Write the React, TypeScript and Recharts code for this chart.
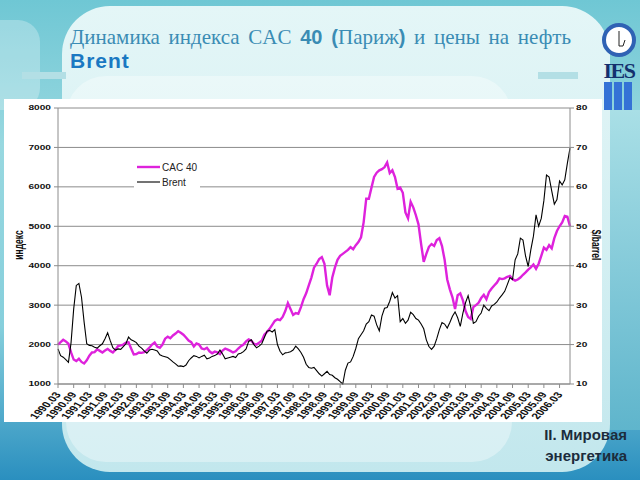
import React from "react";
import { LineChart, Line, XAxis, YAxis, CartesianGrid } from "recharts";

// CAC 40, monthly, from 1990.03
const cac40 = [
  2000, 2060, 2120, 2080, 2020, 1800, 1620, 1580, 1640, 1560, 1520, 1600, 1720, 1800, 1810, 1880,
  1840, 1800, 1850, 1890, 1840, 1800, 1870, 1960, 1980, 2000, 2050, 2060, 1900, 1750, 1760, 1800,
  1790, 1810, 1860, 1920, 2000, 2050, 1950, 1920, 2000, 2150, 2200, 2160, 2230, 2280, 2340, 2300,
  2250, 2180, 2100, 2060, 1950, 2030, 2000, 1900, 1880, 1920, 1830, 1780, 1820, 1800, 1760, 1850,
  1900, 1870, 1840, 1800, 1830, 1900, 1960, 2000, 2080, 2130, 2100, 2020, 2000, 2050, 2100, 2250,
  2320, 2400, 2500, 2600, 2640, 2620, 2700, 2850, 3050, 2900, 2750, 2800, 2780, 2950, 3150, 3300,
  3500, 3700, 3950, 4050, 4170, 4220, 4050, 3500, 3250, 3700, 3950, 4150, 4250, 4300, 4350, 4400,
  4470, 4420, 4520, 4600, 4720, 5100, 5700, 5700, 5980, 6250, 6360, 6420, 6450, 6500, 6620, 6350,
  6420, 6250, 5950, 5980, 5850, 5350, 5200, 5620, 5480, 5280, 5050, 4550, 4100, 4300, 4480, 4550,
  4500, 4650, 4700, 4500, 4150, 3650, 3400, 3200, 2900, 3250, 3300, 3120, 2850, 2700, 2650, 2950,
  3000, 3060, 3180, 3260, 3150, 3330, 3420, 3500, 3570, 3680, 3660, 3680, 3720, 3740, 3660, 3620,
  3650, 3700, 3770, 3830, 3900, 3960, 4030, 3920, 4050, 4250, 4460, 4400, 4520, 4440, 4700, 4880,
  5000, 5100, 5260, 5240, 5000,
];

// Brent, $/barrel, monthly, from 1990.03
const brent = [
  18.9, 17.2, 16.8, 16.2, 15.5, 20.5, 29.0, 35.0, 35.5, 32.0, 25.7, 20.2, 19.8, 19.7, 19.3, 19.1,
  19.7, 20.2, 21.5, 23.0, 21.0, 19.2, 18.6, 18.9, 18.8, 19.5, 20.2, 21.9, 21.2, 20.9, 20.5, 19.6,
  19.1, 18.4, 17.8, 18.6, 18.8, 18.6, 18.4, 17.4, 17.1, 16.9, 16.7, 16.2, 15.6, 15.1, 14.5, 14.6,
  14.4, 14.8, 15.9, 16.6, 17.2, 17.0, 16.6, 17.0, 17.3, 16.4, 16.6, 17.0, 17.2, 17.6, 18.6, 17.6,
  16.4, 16.6, 16.8, 17.0, 16.7, 17.6, 17.8, 18.2, 18.9, 20.8, 21.2, 20.0, 19.2, 19.6, 20.2, 21.8,
  23.4, 23.6, 23.2, 23.8, 20.0, 18.3, 17.4, 17.9, 18.0, 18.2, 18.6, 19.6, 18.9, 18.0, 16.8, 15.0,
  14.2, 14.0, 14.2, 13.4, 12.6, 12.0, 12.6, 13.2, 12.4, 12.2, 11.6, 11.2, 10.6, 10.0, 13.5, 15.3,
  15.6, 17.0, 19.0, 21.5, 22.5, 23.5, 25.2, 25.8, 27.5, 27.2, 25.0, 23.5, 27.2, 29.2, 29.4, 31.0,
  33.2, 31.8, 32.4, 25.8, 26.6, 25.4, 26.2, 28.2, 27.6, 26.6, 26.2, 25.2, 24.0, 21.2, 19.5, 18.8,
  19.6, 21.5, 23.8, 25.6, 25.2, 24.2, 25.6, 27.2, 28.3, 26.8, 24.6, 28.0, 30.6, 32.4, 29.5, 25.4,
  25.8, 27.2, 28.0, 30.0, 29.2, 28.6, 29.8, 30.2, 30.8, 31.8, 32.6, 33.5, 35.2, 37.0, 36.5, 41.5,
  43.0, 47.0, 46.5, 42.4, 39.8, 44.0, 47.5, 52.9, 50.0, 52.0, 56.5, 63.0, 62.5, 59.0, 55.6, 56.8,
  61.5, 60.5, 61.8, 66.0, 69.8,
];

// category labels 1990.03, 1990.04, ...
const months: string[] = cac40.map((_, k) => {
  const t = 2 + k;
  return `${1990 + Math.floor(t / 12)}.${String((t % 12) + 1).padStart(2, "0")}`;
});

const leftTicks = [1000, 2000, 3000, 4000, 5000, 6000, 7000, 8000];
const rightTicks = [10, 20, 30, 40, 50, 60, 70, 80];

const rows = months.map((m, i) => ({ m, cac: cac40[i], brent: brent[i] }));

const SANS = '"Liberation Sans", Arial, sans-serif';
const GRID = "#8c8c8c";

function XTick({ x, y, payload }: any) {
  return (
    <text
      transform={`translate(${x},${y + 3}) scale(1.45,1) rotate(-55)`}
      textAnchor="end"
      dy="0.35em"
      fontSize={8.5}
      fontWeight="bold"
      fontFamily={SANS}
      fill="#111"
    >
      {payload.value}
    </text>
  );
}

function YTick({ x, y, payload, side }: any) {
  return (
    <text
      transform={`translate(${side === "left" ? x - 1 : x},${y}) scale(1.45,1)`}
      textAnchor={side === "left" ? "end" : "start"}
      dy="0.35em"
      fontSize={7}
      fontWeight="bold"
      fontFamily={SANS}
      fill="#111"
    >
      {payload.value}
    </text>
  );
}

export default function App() {
  return (
    <div
      style={{
        position: "relative",
        width: 640,
        height: 480,
        overflow: "hidden",
        background: "linear-gradient(180deg, #6fc7d4 0%, #98d8e0 30%, #86cfdc 68%, #2a8fbf 100%)",
        fontFamily: SANS,
      }}
    >
      <style>{"body{margin:0}"}</style>
      {/* slide decoration */}
      <div style={{ position: "absolute", left: 0, top: 20, width: 40, height: 90, borderRadius: "0 22px 22px 0", background: "rgba(255,255,255,0.28)" }} />
      <div style={{ position: "absolute", left: 600, top: 110, width: 40, height: 320, background: "linear-gradient(180deg,#a9dfe6,#5fb5cc)" }} />
      <div style={{ position: "absolute", left: 62, top: 6, width: 548, height: 466, borderRadius: 48, background: "linear-gradient(180deg,#e4f6f7 0%,#d3eff2 55%,#c2e7ed 100%)" }} />
      <div style={{ position: "absolute", left: 66, top: 76, width: 446, height: 386, borderRadius: 40, background: "rgba(255,255,255,0.35)" }} />
      <div style={{ position: "absolute", left: 22, top: 72, width: 44, height: 7, background: "#b3dfe5" }} />
      <div style={{ position: "absolute", left: 538, top: 72, width: 40, height: 7, background: "#b3dfe5" }} />

      {/* title */}
      <div
        style={{
          position: "absolute",
          left: 70,
          top: 25,
          width: 501,
          fontFamily: '"Liberation Serif", "Times New Roman", serif',
          fontSize: 21,
          lineHeight: "24px",
          color: "#3a8cb4",
        }}
      >
        <div style={{ textAlign: "justify", textAlignLast: "justify", whiteSpace: "nowrap" as any }}>
          Динамика индекса CAC <b style={{ fontFamily: SANS, fontSize: 20 }}>40 (</b>Париж
          <b style={{ fontFamily: SANS, fontSize: 20 }}>)</b> и цены на нефть
        </div>
        <div style={{ fontFamily: SANS, fontWeight: "bold", fontSize: 21, letterSpacing: 1, color: "#1a78c2" }}>Brent</div>
      </div>

      {/* logo */}
      <svg style={{ position: "absolute", left: 598, top: 18 }} width={42} height={94}>
        <circle cx={21} cy={22} r={15} fill="#fff" stroke="#2f62b4" strokeWidth={4} />
        <path d="M21 13 L21 28 L25 28 L27 22" fill="none" stroke="#222" strokeWidth={1} />
        <text x={21} y={60} textAnchor="middle" fontFamily='"Liberation Serif", serif' fontWeight="bold" fontSize={22} fill="#14306e" letterSpacing={-1.5}>
          IES
        </text>
        <rect x={6} y={64} width={8} height={28} fill="#3472d6" />
        <rect x={16} y={64} width={8} height={28} fill="#3472d6" />
        <rect x={26} y={64} width={8} height={28} fill="#3472d6" />
      </svg>

      {/* chart */}
      <div style={{ position: "absolute", left: 4, top: 99, width: 598, height: 323, background: "#fff" }}>
        <LineChart width={598} height={323} data={rows} margin={{ top: 9, right: 0, bottom: 0, left: 0 }}>
          <CartesianGrid vertical={false} stroke={GRID} />
          <XAxis
            dataKey="m"
            scale="point"
            interval={5}
            height={38}
            tickSize={4}
            axisLine={{ stroke: GRID }}
            tickLine={{ stroke: GRID }}
            tick={(p: any) => <XTick {...p} />}
          />
          <YAxis
            domain={[1000, 8000]}
            ticks={leftTicks}
            width={54}
            tickSize={4}
            axisLine={{ stroke: GRID }}
            tickLine={{ stroke: GRID }}
            tick={(p: any) => <YTick {...p} side="left" />}
          />
          <YAxis
            yAxisId="right"
            orientation="right"
            domain={[10, 80]}
            ticks={rightTicks}
            width={32}
            tickSize={4}
            axisLine={{ stroke: GRID }}
            tickLine={{ stroke: GRID }}
            tick={(p: any) => <YTick {...p} side="right" />}
          />
          <Line dataKey="cac" stroke="#de22dc" strokeWidth={2.4} dot={false} isAnimationActive={false} />
          <Line yAxisId="right" dataKey="brent" stroke="#000" strokeWidth={1.1} dot={false} isAnimationActive={false} />
        </LineChart>
      </div>

      {/* axis titles and legend */}
      <svg style={{ position: "absolute", left: 0, top: 0, pointerEvents: "none" }} width={640} height={480}>
        <text transform="translate(19,245) scale(1.45,1) rotate(-90)" textAnchor="middle" dy="0.35em" fontSize={8.5} fontWeight="bold" fontFamily={SANS} fill="#111">
          индекс
        </text>
        <text transform="translate(596,245) scale(1.45,1) rotate(90)" textAnchor="middle" dy="0.35em" fontSize={8.5} fontWeight="bold" fontFamily={SANS} fill="#111">
          $/barrel
        </text>
        <rect x={134} y={157} width={66} height={34} fill="#fff" />
        <line x1={137} y1={167} x2={160} y2={167} stroke="#de22dc" strokeWidth={2.4} />
        <text x={162} y={170.5} fontSize={10} fontFamily={SANS} fill="#222">CAC 40</text>
        <line x1={137} y1={182} x2={160} y2={182} stroke="#000" strokeWidth={1.1} />
        <text x={162} y={185.5} fontSize={10} fontFamily={SANS} fill="#222">Brent</text>
      </svg>

      {/* section caption */}
      <div
        style={{
          position: "absolute",
          right: 13,
          top: 424,
          textAlign: "right",
          fontWeight: "bold",
          fontSize: 15,
          lineHeight: "21px",
          color: "#1c2c3c",
        }}
      >
        <div>II. Мировая</div>
        <div>энергетика</div>
      </div>
    </div>
  );
}
